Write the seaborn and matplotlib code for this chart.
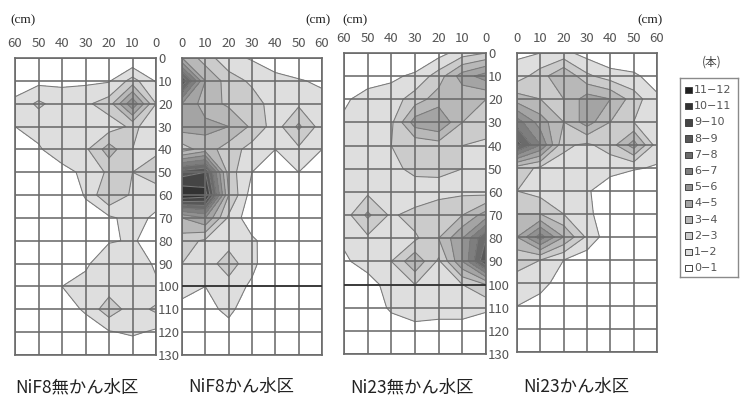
import numpy as np
import matplotlib
matplotlib.use("Agg")
import matplotlib.pyplot as plt
from matplotlib.patches import Rectangle
import seaborn as sns

# 根の本数 (rows: depth 0..130 cm, cols: distance from the row 0..60 cm)
depth_cm = list(range(0, 131, 10))
dist_cm = list(range(0, 61, 10))

nif8_dry = [
    [0.0, 0.0, 0.0, 0.0, 0.0, 0.0, 0.0],
    [0.9, 2.4, 0.9, 0.8, 0.8, 0.7, 0.3],
    [2.0, 5.8, 2.5, 1.8, 1.5, 2.2, 1.3],
    [1.5, 2.2, 1.5, 1.5, 1.8, 1.3, 1.0],
    [1.8, 2.0, 3.5, 1.8, 1.5, 0.9, 0.0],
    [2.5, 2.0, 2.2, 1.2, 0.7, 0.0, 0.0],
    [1.5, 1.8, 3.0, 1.1, 0.0, 0.0, 0.0],
    [0.8, 1.4, 0.8, 0.5, 0.0, 0.0, 0.0],
    [0.6, 1.1, 0.9, 0.3, 0.0, 0.0, 0.0],
    [0.8, 1.8, 1.8, 0.8, 0.0, 0.0, 0.0],
    [1.2, 1.6, 1.5, 1.4, 1.0, 0.0, 0.0],
    [2.2, 1.5, 2.6, 1.2, 0.3, 0.0, 0.0],
    [0.8, 1.2, 0.9, 0.2, 0.0, 0.0, 0.0],
    [0.0, 0.0, 0.0, 0.0, 0.0, 0.0, 0.0],
]

nif8_wet = [
    [4.0, 2.5, 1.3, 0.9, 0.3, 0.0, 0.0],
    [9.0, 4.0, 2.5, 1.8, 1.4, 1.1, 0.8],
    [5.0, 3.5, 2.8, 2.5, 1.5, 1.8, 1.4],
    [4.5, 4.3, 4.0, 2.8, 1.5, 3.2, 1.5],
    [2.5, 3.5, 2.5, 1.6, 1.0, 1.8, 1.0],
    [8.5, 9.0, 2.5, 1.0, 0.5, 1.0, 0.3],
    [11.0, 10.5, 3.0, 0.5, 0.0, 0.0, 0.0],
    [4.0, 5.0, 1.8, 0.3, 0.0, 0.0, 0.0],
    [2.5, 1.8, 1.6, 1.2, 0.3, 0.0, 0.0],
    [2.0, 1.5, 2.5, 1.3, 0.0, 0.0, 0.0],
    [1.6, 1.0, 1.6, 0.8, 0.0, 0.0, 0.0],
    [0.5, 0.6, 1.3, 0.2, 0.0, 0.0, 0.0],
    [0.0, 0.0, 0.5, 0.0, 0.0, 0.0, 0.0],
    [0.0, 0.0, 0.0, 0.0, 0.0, 0.0, 0.0],
]

ni23_dry = [
    [2.0, 1.5, 0.6, 0.0, 0.0, 0.0, 0.0],
    [5.5, 4.5, 2.5, 1.2, 0.8, 0.4, 0.0],
    [3.0, 3.2, 3.5, 2.5, 1.5, 1.5, 0.8],
    [2.5, 3.0, 5.0, 4.5, 1.8, 1.5, 1.2],
    [1.8, 2.0, 2.5, 2.2, 2.0, 1.8, 1.5],
    [1.6, 2.0, 2.3, 2.5, 1.5, 2.0, 1.3],
    [1.6, 1.8, 1.5, 1.0, 1.8, 1.8, 1.3],
    [4.5, 3.0, 3.0, 2.5, 1.8, 3.2, 1.5],
    [8.0, 5.0, 3.0, 1.8, 1.0, 1.8, 1.2],
    [9.0, 5.0, 1.8, 3.8, 2.0, 1.5, 0.8],
    [3.0, 2.0, 1.8, 2.0, 1.5, 0.5, 0.0],
    [1.2, 1.5, 1.5, 1.6, 1.2, 0.2, 0.0],
    [0.2, 0.5, 0.5, 0.6, 0.3, 0.0, 0.0],
    [0.0, 0.0, 0.0, 0.0, 0.0, 0.0, 0.0],
]

ni23_wet = [
    [0.8, 1.0, 1.3, 0.6, 0.0, 0.0, 0.0],
    [1.5, 2.5, 4.0, 2.2, 1.5, 1.2, 0.5],
    [3.5, 3.0, 3.0, 4.5, 4.0, 2.5, 1.2],
    [6.5, 4.5, 3.0, 4.5, 3.0, 2.0, 1.4],
    [8.5, 6.0, 2.2, 1.8, 2.5, 4.5, 1.5],
    [2.5, 1.8, 1.6, 2.0, 1.3, 1.1, 0.9],
    [2.0, 1.6, 1.7, 1.1, 0.5, 0.0, 0.0],
    [3.0, 3.0, 2.0, 1.3, 0.2, 0.0, 0.0],
    [4.0, 6.5, 4.0, 1.8, 0.3, 0.0, 0.0],
    [2.2, 2.0, 1.0, 0.4, 0.0, 0.0, 0.0],
    [1.8, 1.5, 0.3, 0.0, 0.0, 0.0, 0.0],
    [1.0, 0.4, 0.0, 0.0, 0.0, 0.0, 0.0],
    [0.0, 0.0, 0.0, 0.0, 0.0, 0.0, 0.0],
    [0.0, 0.0, 0.0, 0.0, 0.0, 0.0, 0.0],
]

titles = ["NiF8無かん水区", "NiF8かん水区", "Ni23無かん水区", "Ni23かん水区"]
level_labels = ["11−12", "10−11", "9−10", "8−9", "7−8", "6−7",
                "5−6", "4−5", "3−4", "2−3", "1−2", "0−1"]

sns.set_theme(style="white")
plt.rcParams['font.family'] = ['Noto Sans CJK JP', 'DejaVu Sans']

levels = np.arange(0, 13)
grays = ["white"] + [str(round(v, 3)) for v in np.linspace(0.87, 0.12, 11)]

W, H = 742, 396
fig = plt.figure(figsize=(W / 100, H / 100), dpi=100)

def px_axes(x0, y0, x1, y1):
    return fig.add_axes([x0 / W, 1 - y1 / H, (x1 - x0) / W, (y1 - y0) / H])

# (data, axes box in px, mirrored?, depth labels?, dark lines)
panels = [
    (nif8_dry, (15, 58, 156, 355), True, True, []),
    (nif8_wet, (182, 58, 322, 355), False, False, [100]),
    (ni23_dry, (344, 53, 486, 354), True, True, [100]),
    (ni23_wet, (517, 53, 657, 352), False, False, []),
]

X, Y = np.meshgrid(dist_cm, depth_cm)
for data, box, mirrored, ylab, dark in panels:
    ax = px_axes(*box)
    Z = np.array(data)
    ax.contourf(X, Y, Z, levels=levels, colors=grays, extend='neither')
    ax.contour(X, Y, Z, levels=levels[1:-1], colors='#7a7a7a', linewidths=0.75)
    ax.set_xlim((60, 0) if mirrored else (0, 60))
    ax.set_ylim(130, 0)
    ax.set_xticks(dist_cm)
    ax.set_yticks(depth_cm)
    ax.grid(True, color='#6a6a6a', lw=1.15)
    ax.set_axisbelow(False)
    for y in dark:
        ax.axhline(y, color='#2a2a2a', lw=1.1, zorder=3)
    for s in ax.spines.values():
        s.set_color('#6a6a6a')
        s.set_linewidth(1.2)
    ax.xaxis.tick_top()
    ax.tick_params(axis='x', length=0, pad=6, labelsize=9.5, colors='#555555',
                   top=True, labeltop=True, bottom=False, labelbottom=False)
    ax.yaxis.tick_right()
    ax.tick_params(axis='y', length=0, pad=1.5, labelsize=9.5, colors='#555555',
                   left=False, labelleft=False, right=ylab, labelright=ylab)
    ax.set_xlabel("")
    ax.set_ylabel("")

# (cm) unit labels
cm_font = dict(family='Liberation Serif', fontsize=9.5, color='#222222', va='center')
fig.text(10 / W, 1 - 20 / H, "(cm)", ha='left', **cm_font)
fig.text(331 / W, 1 - 20 / H, "(cm)", ha='right', **cm_font)
fig.text(342 / W, 1 - 20 / H, "(cm)", ha='left', **cm_font)
fig.text(663 / W, 1 - 20 / H, "(cm)", ha='right', **cm_font)

# panel titles
for x0, t in zip([15, 188, 350, 523], titles):
    fig.text(x0 / W, 1 - 387 / H, t, ha='left', va='center', fontsize=12.5, color='#222222')

# legend
fig.text(712 / W, 1 - 62 / H, "(本)", ha='center', va='center', fontsize=8.5, color='#444444')
lax = fig.add_axes([680 / W, 1 - 277 / H, 58 / W, 199 / H])
lax.set_xlim(0, 58)
lax.set_ylim(199, 0)
lax.set_xticks([])
lax.set_yticks([])
for s in lax.spines.values():
    s.set_color('#8a8a8a')
    s.set_linewidth(1.0)
leg_colors = grays[::-1]
for i, (lab, c) in enumerate(zip(level_labels, leg_colors)):
    yy = 12 + i * 16.2
    lax.add_patch(Rectangle((5, yy - 3.3), 6.5, 6.5, facecolor=c, edgecolor='#444444', lw=0.7))
    lax.text(14, yy, lab, ha='left', va='center', fontsize=8, color='#555555',
             family='DejaVu Sans')

fig.savefig("out.png", dpi=100)
